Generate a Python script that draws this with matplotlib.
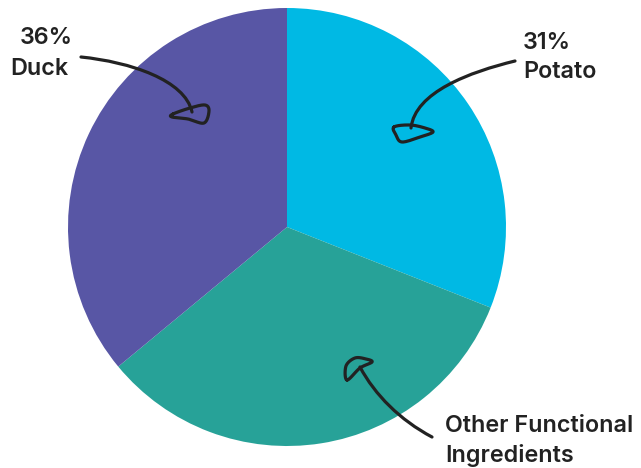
import numpy as np
import matplotlib
matplotlib.use("Agg")
import matplotlib.pyplot as plt
from matplotlib.path import Path
from matplotlib.patches import PathPatch

# ---- data ----
categories = ["Potato", "Other Functional Ingredients", "Duck"]
values = [31, 33, 36]
label_pcts = ["31%", None, "36%"]
colors = ["#00B9E4", "#27A298", "#5856A5"]

W, H = 641, 468
fig = plt.figure(figsize=(W / 100, H / 100), dpi=100)
ax = fig.add_axes([0, 0, 1, 1])


def P(x, y):
    return (x, H - y)


cx, cy = P(287, 227)
ax.pie(values, colors=colors, startangle=90, counterclock=False,
       center=(cx, cy), radius=219, frame=True,
       wedgeprops=dict(linewidth=0))
ax.set_xlim(0, W)
ax.set_ylim(0, H)
ax.set_aspect("equal")
ax.axis("off")

ink = "#222222"
lw = 2.3


def shaft(pts):
    verts = [P(*p) for p in pts]
    codes = [Path.MOVETO, Path.CURVE4, Path.CURVE4, Path.CURVE4]
    ax.add_patch(PathPatch(Path(verts, codes), fill=False, edgecolor=ink,
                           lw=lw, capstyle="round", joinstyle="round"))


def loop(pts, n=20):
    pts = [np.array(P(*p), float) for p in pts]
    m = len(pts)
    out = []
    for i in range(m):
        p0, p1, p2, p3 = pts[i - 1], pts[i], pts[(i + 1) % m], pts[(i + 2) % m]
        for t in np.linspace(0, 1, n, endpoint=False):
            t2, t3 = t * t, t * t * t
            out.append(0.5 * ((2 * p1) + (-p0 + p2) * t +
                              (2 * p0 - 5 * p1 + 4 * p2 - p3) * t2 +
                              (-p0 + 3 * p1 - 3 * p2 + p3) * t3))
    out.append(out[0])
    out = np.array(out)
    ax.plot(out[:, 0], out[:, 1], color=ink, lw=lw, solid_capstyle="round",
            solid_joinstyle="round")


# Duck arrow
shaft([(81, 57), (130, 62), (185, 80), (192, 112)])
loop([(173, 114), (190, 108), (205, 105), (209, 111), (204, 123), (188, 119), (172, 117)])

# Potato arrow
shaft([(515, 61), (470, 72), (415, 92), (411, 128)])
loop([(394, 127), (410, 125), (425, 128), (433, 132), (420, 137), (402, 142), (396, 135)])

# Other arrow
shaft([(432, 437), (400, 420), (375, 395), (360, 367)])
loop([(347, 380), (346, 366), (355, 358), (366, 359), (372, 362), (360, 368)])

fkw = dict(family=["Inter", "DejaVu Sans"], fontsize=16.8, fontweight="semibold",
           color=ink)

# Duck label
ax.text(*P(20, 44), label_pcts[2], ha="left", va="baseline", **fkw)
ax.text(*P(10, 75), categories[2], ha="left", va="baseline", **fkw)
# Potato label
ax.text(*P(523, 49), label_pcts[0], ha="left", va="baseline", **fkw)
ax.text(*P(523, 78), categories[0], ha="left", va="baseline", **fkw)
# Other label
ax.text(*P(445, 432), "Other Functional", ha="left", va="baseline", **fkw)
ax.text(*P(445, 462), "Ingredients", ha="left", va="baseline", **fkw)

fig.savefig("out.png", dpi=100)
